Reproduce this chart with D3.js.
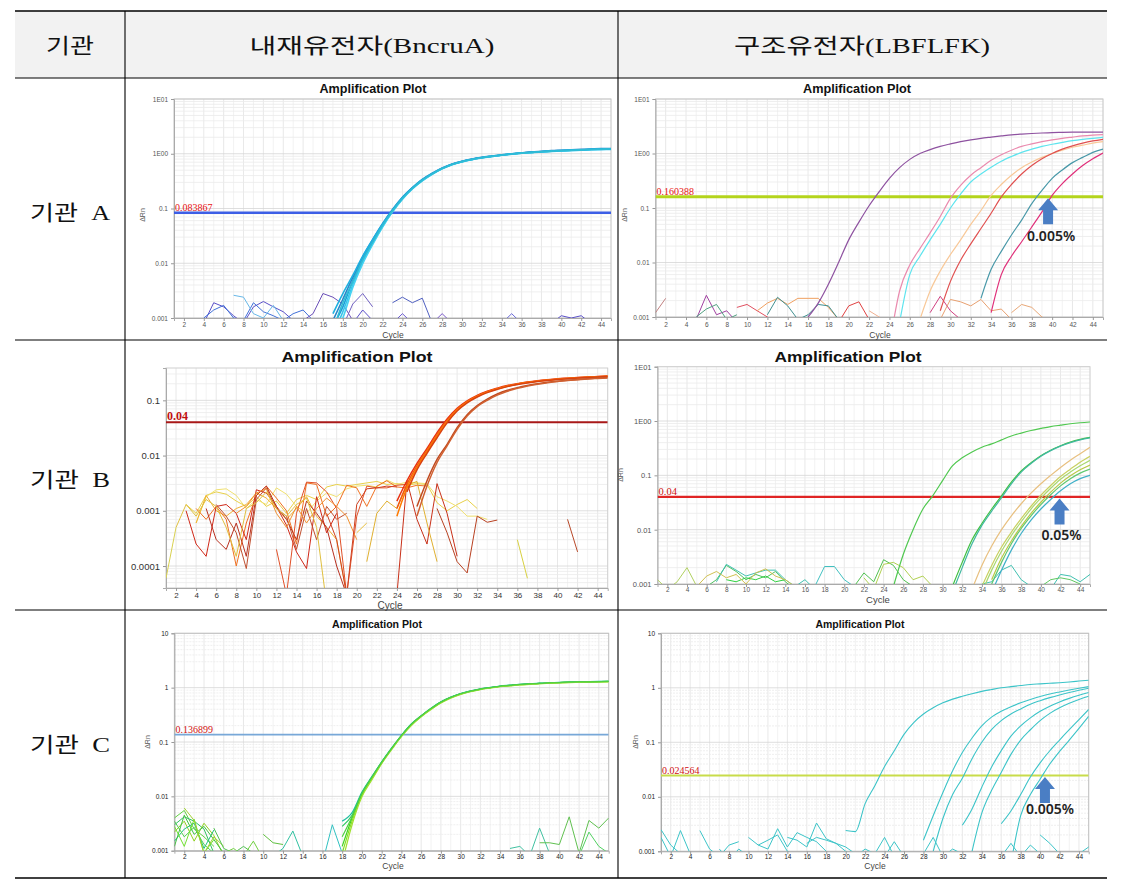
<!DOCTYPE html>
<html><head><meta charset="utf-8">
<script src="https://cdn.jsdelivr.net/npm/d3@7"></script>
<style>body{margin:0;background:#fff}</style></head>
<body><svg id="c" width="1122" height="884"></svg>
<script>
// ---------------- DATA ----------------
const headerLabels = ["기관", "내재유전자(BncruA)", "구조유전자(LBFLFK)"];
const rowLabels = ["기관  A", "기관  B", "기관  C"];
const cycleTicks = [2,4,6,8,10,12,14,16,18,20,22,24,26,28,30,32,34,36,38,40,42,44];
const yTicksE = [0.001, 0.01, 0.1, 1, 10];
const yLabelsE = ["0.001", "0.01", "0.1", "1E00", "1E01"];
const yLabelsN = ["0.001", "0.01", "0.1", "1", "10"];
const yTicksB = [0.0001, 0.001, 0.01, 0.1];
const yLabelsB = ["0.0001", "0.001", "0.01", "0.1"];
const thresholds = [0.083867, 0.160388, 0.04, 0.04, 0.136899, 0.024564];
const thresholdLabels = ["0.083867", "0.160388", "0.04", "0.04", "0.136899", "0.024564"];
const annotations = ["0.005%", "0.05%", "0.005%"];
const annotationCycles = [39.6, 41.9, 40.5];

// Panel A-left (BncruA, 기관 A)
const aLeftCurves = [
  {s:17, v:[0.0007,0.0016,0.0048,0.012,0.025,0.05,0.092,0.155,0.235,0.33,0.43,0.54,0.64,0.72,0.79,0.85,0.9,0.95,0.99,1.03,1.06,1.09,1.12,1.14,1.16,1.18,1.2,1.21,1.22]},
  {s:17, v:[0.0005,0.0013,0.004,0.0105,0.023,0.047,0.088,0.15,0.23,0.32,0.42,0.53,0.63,0.71,0.78,0.84,0.89,0.94,0.98,1.02,1.05,1.08,1.1,1.12,1.14,1.16,1.18,1.19,1.2]},
  {s:17, v:[0.0009,0.0022,0.0055,0.013,0.027,0.053,0.096,0.16,0.24,0.34,0.44,0.55,0.65,0.73,0.8,0.86,0.91,0.96,1.0,1.04,1.08,1.11,1.14,1.16,1.18,1.2,1.22,1.24,1.25]},
  {s:17, v:[0.0004,0.001,0.0036,0.0098,0.022,0.046,0.087,0.148,0.228,0.322,0.425,0.535,0.635,0.715,0.785,0.845,0.895,0.945,0.985,1.025,1.055,1.085,1.115,1.135,1.155,1.175,1.195,1.205,1.215]},
  {s:17, v:[0.0012,0.0028,0.006,0.0135,0.027,0.052,0.094,0.158,0.238,0.335,0.435,0.545,0.645,0.725,0.795,0.855,0.905,0.955,0.995,1.035,1.065,1.095,1.125,1.145,1.165,1.185,1.205,1.215,1.225]},
  {s:17, v:[0.0006,0.0019,0.0046,0.0115,0.024,0.049,0.09,0.152,0.232,0.328,0.428,0.538,0.638,0.718,0.788,0.848,0.898,0.948,0.988,1.028,1.058,1.088,1.118,1.138,1.158,1.178,1.198,1.208,1.218]}
];
const aLeftNoise = [
  {s:4, v:[0.0008,0.0019,0.0016,0.0011,0.0008,0.0016,0.002,0.0016,0.0013,0.0009]},
  {s:4, v:[0.001,0.0014,0.0017,0.001,0.0009,0.0019,0.0013,0.0011,0.0009,0.0012,0.0014,0.0009]},
  {s:7, v:[0.0026,0.0024,0.0012,0.001,0.0017,0.0009]},
  {s:14, v:[0.0009,0.0012,0.0028,0.0024,0.0018,0.0009]},
  {s:18, v:[0.0007,0.0018,0.0028,0.0016]},
  {s:23, v:[0.0019,0.0024,0.0019,0.0023,0.0008]},
  {s:19, v:[0.0008,0.0014,0.0009]},
  {s:23, v:[0.0008,0.0012,0.0008]},
  {s:27, v:[0.0008,0.0012,0.0008]},
  {s:34, v:[0.0008,0.0012,0.0008]},
  {s:39, v:[0.0008,0.0011,0.001,0.0011,0.0008]}
];

// Panel A-right (LBFLFK, 기관 A)
const aRightCurves = [
  {s:16, v:[0.001,0.0018,0.004,0.01,0.026,0.055,0.11,0.2,0.35,0.55,0.78,1.0,1.18,1.35,1.5,1.65,1.78,1.9,2.0,2.1,2.2,2.27,2.33,2.38,2.42,2.44,2.46,2.47,2.47,2.46]},
  {s:24, v:[0.0003,0.003,0.009,0.018,0.035,0.07,0.15,0.26,0.4,0.55,0.75,0.95,1.15,1.35,1.5,1.65,1.78,1.9,2.0,2.1,2.17,2.22]},
  {s:25, v:[0.0008,0.006,0.013,0.026,0.05,0.1,0.18,0.3,0.42,0.56,0.72,0.88,1.05,1.2,1.35,1.48,1.6,1.72,1.82,1.9,1.97]},
  {s:27, v:[0.0009,0.003,0.007,0.014,0.026,0.05,0.09,0.17,0.27,0.4,0.55,0.7,0.85,1.0,1.15,1.3,1.42,1.55,1.65]},
  {s:29, v:[0.0013,0.0045,0.011,0.022,0.042,0.08,0.16,0.27,0.42,0.6,0.8,1.0,1.2,1.38,1.55,1.7,1.82]},
  {s:33, v:[0.0022,0.0075,0.016,0.032,0.06,0.12,0.21,0.35,0.5,0.68,0.85,1.05,1.2]},
  {s:34, v:[0.0012,0.006,0.013,0.024,0.045,0.085,0.17,0.28,0.42,0.6,0.8,1.02]}
];
const aRightNoise = [
  {s:1, v:[0.0012,0.0022]},
  {s:5, v:[0.0009,0.0025,0.0011,0.0013,0.0008]},
  {s:5, v:[0.001,0.0014,0.0017,0.0009,0.0011]},
  {s:9, v:[0.0015,0.0017,0.0013,0.001,0.0008]},
  {s:11, v:[0.0013,0.0018,0.0022,0.0017,0.0022,0.0022,0.0022,0.0015,0.0009]},
  {s:12, v:[0.0011,0.0023,0.0016,0.0009,0.0011,0.0017,0.0016,0.0009]},
  {s:19, v:[0.0008,0.0016,0.0019,0.0009]},
  {s:22, v:[0.0013,0.001,0.0008]},
  {s:28, v:[0.0012,0.0024,0.0013,0.0009]},
  {s:29, v:[0.0009,0.0021,0.0019,0.0016,0.0021,0.0013,0.0014,0.0009]},
  {s:36, v:[0.0012,0.0017,0.0015,0.001,0.0008]}
];

// Panel B-left (BncruA, 기관 B)
const bLeftCurves = [
  {s:24, v:[0.0015,0.0035,0.0072,0.0135,0.026,0.046,0.072,0.098,0.123,0.146,0.166,0.185,0.2,0.214,0.226,0.236,0.245,0.252,0.259,0.265,0.27,0.275]},
  {s:24, v:[0.0011,0.003,0.0065,0.0125,0.024,0.043,0.069,0.095,0.12,0.143,0.163,0.182,0.198,0.212,0.224,0.234,0.243,0.25,0.257,0.263,0.268,0.273]},
  {s:24, v:[0.0008,0.0026,0.006,0.0118,0.0228,0.041,0.067,0.093,0.118,0.141,0.161,0.18,0.196,0.21,0.222,0.232,0.241,0.249,0.256,0.262,0.267,0.272]},
  {s:25, v:[0.0022,0.0055,0.011,0.021,0.039,0.064,0.09,0.115,0.138,0.158,0.177,0.193,0.207,0.219,0.229,0.238,0.246,0.253,0.259,0.264,0.269]},
  {s:26, v:[0.0012,0.0035,0.0085,0.016,0.032,0.055,0.08,0.105,0.13,0.152,0.17,0.186,0.2,0.212,0.222,0.231,0.239,0.246,0.252,0.258]},
  {s:26, v:[0.0008,0.0028,0.0075,0.015,0.03,0.052,0.077,0.1,0.124,0.146,0.165,0.181,0.196,0.208,0.219,0.228,0.236,0.243,0.249,0.255]}
];
const bLeftNoise = [
  {s:3, v:[0.0013,0.0009,0.0019,0.0022,0.002,0.0015,0.0012,0.0018,0.0012,0.0015,0.0009,0.0016,0.0019,0.0016,0.0027,0.003,0.0028,0.003,0.0032,0.0034,0.003,0.0031,0.0029,0.0031,0.003,0.0014,0.001,0.0013,0.0016,0.0011]},
  {s:4, v:[0.0006,0.0018,0.0024,0.0025,0.0019,0.0011,0.0016,0.0013,0.0026,0.002,0.0012,0.0009,0.0015,0.0021,0.0018,0.0025,0.0028,0.0029,0.0027,0.0036,0.003,0.0033,0.0032,0.0031,0.0018,0.0015,0.0012,0.0008,0.0008,0.0007]},
  {s:4, v:[0.0006,0.0019,0.001,0.0008,0.0011,0.0013,0.0021,0.0017,0.0011,0.0007,0.0011,0.0018,0.0008,0.0005,0.0003,0.00003]},
  {s:4, v:[0.0011,0.0007,0.0012,0.0007,0.0001,0.0006,0.0019,0.0028,0.0017,0.001,0.00025,0.0032,0.003,0.0008,0.0012,0.0029,0.0026,0.0012,0.0028,0.0035,0.0027,0.0026,0.0029,0.0028]},
  {s:3, v:[0.001,0.00025,0.00015,0.0012,0.0013,0.0009,0.0003,0.0024,0.0021,0.0012,0.00055,0.00018,0.00009,0.0018,0.0004,0.0009]},
  {s:5, v:[0.0011,0.0003,0.0002,0.0006,0.00015,0.0019,0.0028,0.0012,0.0007,0.0003,0.0015,0.0009,0.0005,0.0001,0.00003]},
  {s:6, v:[0.0013,0.0008,0.0004,0.00009,0.0016,0.0026,0.0011,0.0008,0.0002,0.0011,0.0003,0.0012,0.0007,0.0009]},
  {s:12, v:[0.0002,0.00003,0.0009,0.0033,0.0032,0.0022,0.0011,0.00003,0.0008,0.0028,0.0026,0.0026,0.0029,0.003]},
  {s:8, v:[0.0009,0.0012,0.0021,0.0025,0.0009,0.0005,0.0012,0.0006,0.0011,0.0017,0.0012,0.0008,0.0003]},
  {s:2, v:[0.0005,0.0013,0.0008,0.0016,0.0012,0.0005,0.00015,0.0011,0.0014,0.0022,0.0011,0.0008,0.0013,0.0017,0.0005,0.00002]},
  {s:24, v:[0.00003,0.0035,0.0007,0.00025,0.0031,0.0009,0.00015]},
  {s:28, v:[0.0011,0.0004,0.00012,0.000075,0.0008,0.00062,0.00068]},
  {s:36, v:[0.0003,0.00006]},
  {s:41, v:[0.0007,0.00018]},
  {s:1, v:[0.00006,0.0005]},
  {s:20, v:[0.0004,0.0006]},
  {s:21, v:[0.00012,0.0009,0.0015,0.0011,0.0029,0.0034,0.0006,0.00012]},
  {s:17, v:[0.0009,0.0003,0.00003,0.0013,0.0025,0.0026,0.0028,0.0027]}
];

// Panel B-right (LBFLFK, 기관 B)
const bRightCurves = [
  {s:25, v:[0.0009,0.0035,0.01,0.024,0.042,0.08,0.15,0.21,0.27,0.33,0.38,0.45,0.53,0.6,0.67,0.73,0.79,0.84,0.89,0.93,0.96]},
  {s:31, v:[0.0009,0.0025,0.0065,0.013,0.024,0.042,0.075,0.12,0.17,0.23,0.29,0.35,0.41,0.46,0.5]},
  {s:31, v:[0.0007,0.002,0.0055,0.012,0.022,0.039,0.07,0.115,0.165,0.225,0.285,0.345,0.4,0.45,0.49]},
  {s:33, v:[0.0008,0.0022,0.005,0.01,0.018,0.03,0.047,0.07,0.1,0.14,0.19,0.25,0.33]},
  {s:34, v:[0.0009,0.0022,0.0048,0.009,0.016,0.027,0.043,0.065,0.095,0.13,0.175,0.225]},
  {s:34, v:[0.0007,0.0018,0.004,0.0078,0.014,0.024,0.038,0.058,0.085,0.115,0.15,0.19]},
  {s:35, v:[0.0012,0.003,0.0062,0.0115,0.02,0.032,0.049,0.072,0.098,0.127,0.155]},
  {s:35, v:[0.001,0.0025,0.0055,0.0105,0.018,0.029,0.044,0.064,0.087,0.11,0.13]},
  {s:35, v:[0.0007,0.0018,0.0042,0.0085,0.015,0.024,0.036,0.052,0.07,0.087,0.1]}
];
const bRightNoise = [
  {s:1, v:[0.0012,0.0008,0.0011,0.002,0.0009]},
  {s:6, v:[0.0009,0.0012,0.0022,0.0017,0.0012,0.0015,0.0013,0.0017,0.0011,0.0008]},
  {s:7, v:[0.0011,0.0023,0.0018,0.0014,0.0016,0.0018,0.0018,0.0012,0.0009,0.0012,0.0008]},
  {s:8, v:[0.0012,0.0011,0.0013,0.0012,0.0014,0.0011,0.0012]},
  {s:5, v:[0.0009,0.0014,0.0017,0.0013,0.0015,0.001,0.0016,0.0019,0.0014,0.0012,0.0009]},
  {s:17, v:[0.0009,0.0021,0.0021,0.0012,0.0009]},
  {s:21, v:[0.0009,0.0016,0.0011,0.0028,0.0022,0.0012,0.0009]},
  {s:22, v:[0.0013,0.0008,0.0023,0.0025,0.002,0.0012,0.0014,0.0009]},
  {s:34, v:[0.001,0.0011,0.0018,0.0022,0.0012,0.0009]},
  {s:41, v:[0.0008,0.0015,0.0014,0.0011,0.0015,0.0021]},
  {s:40, v:[0.0009,0.0012,0.0013,0.0012,0.001]}
];

// Panel C-left (BncruA, 기관 C)
const cLeftCurves = [
  {s:18, v:[0.0012,0.004,0.011,0.022,0.042,0.075,0.13,0.21,0.3,0.41,0.54,0.66,0.77,0.86,0.94,1.0,1.06,1.1,1.14,1.17,1.2,1.22,1.24,1.26,1.27,1.28,1.29,1.3]},
  {s:18, v:[0.0009,0.0035,0.0105,0.021,0.041,0.074,0.128,0.205,0.295,0.4,0.53,0.65,0.76,0.85,0.93,0.99,1.05,1.09,1.13,1.16,1.19,1.21,1.23,1.25,1.26,1.27,1.28,1.29]},
  {s:18, v:[0.0035,0.005,0.012,0.023,0.043,0.077,0.133,0.215,0.305,0.42,0.55,0.67,0.78,0.87,0.95,1.01,1.07,1.11,1.15,1.18,1.21,1.23,1.25,1.27,1.28,1.29,1.3,1.31]},
  {s:18, v:[0.0028,0.0045,0.0115,0.0225,0.0425,0.076,0.131,0.212,0.3,0.415,0.545,0.665,0.775,0.865,0.945,1.005,1.065,1.105,1.145,1.175,1.205,1.225,1.245,1.265,1.275,1.285,1.295,1.305]},
  {s:18, v:[0.0006,0.003,0.0098,0.02,0.04,0.072,0.125,0.2,0.29,0.395,0.52,0.64,0.75,0.84,0.92,0.98,1.04,1.08,1.12,1.15,1.18,1.2,1.22,1.24,1.25,1.26,1.27,1.28]},
  {s:18, v:[0.0018,0.0042,0.0112,0.0222,0.0422,0.0755,0.1305,0.211,0.302,0.412,0.542,0.662,0.772,0.862,0.942,1.002,1.062,1.102,1.142,1.172,1.202,1.222,1.242,1.262,1.272,1.282,1.292,1.302]}
];
const cLeftNoise = [
  {s:1, v:[0.004,0.0055,0.0025,0.0018,0.0012]},
  {s:1, v:[0.003,0.0042,0.0035,0.0025,0.0009]},
  {s:1, v:[0.0022,0.0035,0.0015,0.0032,0.0019,0.0008]},
  {s:1, v:[0.0015,0.0025,0.0032,0.0011,0.0024]},
  {s:1, v:[0.0035,0.0018,0.0027,0.0013,0.0009]},
  {s:1, v:[0.0012,0.0045,0.002,0.0028,0.0016,0.0009]},
  {s:1, v:[0.0028,0.0012,0.0038,0.0009,0.0016]},
  {s:2, v:[0.0061,0.0036,0.0009,0.0018,0.0012]},
  {s:5, v:[0.0026,0.0011,0.0009,0.0012,0.0009]},
  {s:6, v:[0.0009,0.0011,0.0008,0.0015,0.0007]},
  {s:10, v:[0.002,0.0014,0.0013]},
  {s:11, v:[0.0008,0.0011,0.0023,0.0008]},
  {s:16, v:[0.0006,0.003,0.0009]},
  {s:35, v:[0.0011,0.0012,0.0008,0.0026,0.0009]},
  {s:38, v:[0.0014,0.0014,0.0013,0.0042,0.0009,0.0036,0.0026,0.004]},
  {s:42, v:[0.0008,0.0022,0.0012,0.0009]}
];

// Panel C-right (LBFLFK, 기관 C)
const cRightCurves = [
  {s:20, v:[0.0024,0.0023,0.0075,0.016,0.036,0.07,0.14,0.23,0.33,0.43,0.53,0.62,0.7,0.78,0.86,0.93,1.0,1.05,1.1,1.15,1.18,1.21,1.24,1.28,1.33,1.38]},
  {s:28, v:[0.0016,0.0045,0.012,0.03,0.065,0.12,0.2,0.29,0.37,0.45,0.53,0.61,0.69,0.77,0.84,0.91,0.98,1.05]},
  {s:29, v:[0.001,0.004,0.011,0.022,0.05,0.1,0.17,0.25,0.33,0.41,0.5,0.58,0.66,0.74,0.82,0.9,0.98]},
  {s:32, v:[0.003,0.006,0.015,0.035,0.07,0.13,0.2,0.28,0.37,0.46,0.55,0.64,0.73,0.82]},
  {s:33, v:[0.001,0.005,0.013,0.028,0.06,0.11,0.17,0.25,0.34,0.43,0.52,0.61,0.7]},
  {s:36, v:[0.0032,0.0055,0.011,0.023,0.042,0.07,0.11,0.17,0.26,0.4]},
  {s:37, v:[0.0006,0.0045,0.011,0.021,0.04,0.068,0.11,0.18,0.3]}
];
const cRightNoise = [
  {s:1, v:[0.0025,0.0013,0.0009]},
  {s:1, v:[0.0018,0.0008,0.0024,0.0009,0.0008]},
  {s:5, v:[0.0024,0.0011,0.0008,0.0013,0.0015]},
  {s:7, v:[0.0011,0.0007,0.0011,0.0008]},
  {s:10, v:[0.0018,0.0013,0.0011,0.0026,0.0012,0.0022,0.0018,0.0015,0.001]},
  {s:11, v:[0.0013,0.0016,0.002,0.001,0.0008]},
  {s:14, v:[0.0018,0.0016,0.0012,0.0033,0.0017,0.0014,0.0012,0.0009]},
  {s:16, v:[0.0014,0.0018,0.0016,0.0014,0.001,0.0008]},
  {s:21, v:[0.0008,0.0011,0.0009]},
  {s:23, v:[0.0009,0.0018,0.0008]},
  {s:24, v:[0.0008,0.0015,0.0008]},
  {s:28, v:[0.0009,0.0018,0.0008]},
  {s:30, v:[0.0008,0.0011,0.0009]},
  {s:36, v:[0.0008,0.0014,0.0008]},
  {s:38, v:[0.0008,0.0013,0.0009]},
  {s:40, v:[0.002,0.0014,0.0009]},
  {s:44, v:[0.0009,0.0012,0.0009]}
];

// ---------------- STYLE / LAYOUT ----------------
const aLeftColors = ['#1a9ed8','#34c4ea','#2a86c8','#46d2f2','#1fb0e0','#30bcd4'];
const aLeftNoiseColors = ['#5a50c8','#4070d8','#68b8e8','#6a4fb8','#7060c0','#5060c0','#5a4fc8','#6a5ad0','#7a5ac8','#6a6ad8','#5a50c8'];
const aRightColors = ['#8e52a0','#ea8aae','#5ee4ee','#f8c898','#e05050','#4898a8','#e0307a'];
const aRightNoiseColors = ['#c08080','#a040a0','#50a080','#e05060','#f0a060','#409090','#e04040','#f0b090','#d04080','#e8a070','#e8a878'];
const bLeftColors = ['#e83010','#f05a10','#ff7a00','#d84010','#c04a20','#d06030'];
const bLeftNoiseColors = ['#e8d048','#f0e070','#f0b030','#f07020','#d02818','#b83020','#c05030','#e05028','#f09030','#e0c040','#c83018','#b84020','#d8d040','#b84828','#d8d050','#e8c040','#e0b030','#d04020'];
const bRightColors = ['#50c850','#40c040','#40b8a0','#e8c080','#c8d060','#a8d870','#b8c848','#60c870','#40b0c8'];
const bRightNoiseColors = ['#b0d060','#50c060','#40c0b0','#30d040','#d0c050','#40c0c0','#50c050','#b0d050','#40c0b0','#40c0b0','#60c860'];
const cLeftColors = ['#40d020','#80e020','#20c0a0','#30c860','#a0e030','#50d040'];
const cLeftNoiseColors = ['#60d040','#30c060','#90d020','#20c080','#50d050','#40c040','#70e030','#a0d030','#50c050','#70d040','#60c040','#30c0a0','#30c0c0','#40c0a0','#60c050','#50d060'];
const cRightColor = '#3cc4c8';

const panels = [
  {x0:174, x1:611, yTop:99, yBot:318, dom:[0.001,10], yt:yTicksE, yl:yLabelsE, curves:aLeftCurves, cc:aLeftColors, cw:1.6, noise:aLeftNoise, nc:aLeftNoiseColors,
   thr:0, thrColor:'#3c5ee6', thrW:2.6, thrFont:10, thrBold:false, thrLabelColor:'#e81010',
   title:{x:373, y:93, size:12, len:107}, tickFont:6.5, xTickY:325, cycle:{x:393, y:336, size:8.5}, dRn:{x:143, y:215},
   frame:'#c8c8c8'},
  {x0:655.5, x1:1103, yTop:99, yBot:317, dom:[0.001,10], yt:yTicksE, yl:yLabelsE, curves:aRightCurves, cc:aRightColors, cw:1.2, noise:aRightNoise, nc:aRightNoiseColors,
   thr:1, thrColor:'#b4d41c', thrW:3, thrFont:10, thrBold:false, thrLabelColor:'#e81010',
   title:{x:857, y:93, size:12, len:108}, tickFont:6.5, xTickY:325, cycle:{x:880, y:336, size:8.5}, dRn:{x:625, y:215},
   arrow:{i:0, dy:44, dx:3}, frame:'#c8c8c8'},
  {x0:166, x1:607.7, yTop:368, yBot:588, dom:[4.0e-5,0.385], yt:yTicksB, yl:yLabelsB, curves:bLeftCurves, cc:bLeftColors, cw:1.5, noise:bLeftNoise, nc:bLeftNoiseColors,
   thr:2, thrColor:'#a81818', thrW:2, thrFont:12, thrBold:true, thrLabelColor:'#c01010',
   title:{x:357, y:362, size:15, len:151}, tickFont:9.5, tickColor:'#333', xTickY:596, xTickFont:8, cycle:{x:390, y:606, size:10},
   frame:'#d0d0d0'},
  {x0:657.5, x1:1090, yTop:366.7, yBot:584, dom:[0.001,10], yt:yTicksE, yl:yLabelsE, curves:bRightCurves, cc:bRightColors, cw:1.2, noise:bRightNoise, nc:bRightNoiseColors,
   thr:3, thrColor:'#e02424', thrW:2.2, thrFont:10.5, thrBold:false, thrLabelColor:'#d01010',
   title:{x:848, y:362, size:15, len:147}, tickFont:7.5, xTickY:590, xTickFont:6.5, cycle:{x:878, y:600, size:9.5}, dRn:{x:621, y:475},
   arrow:{i:1, dy:43, dx:2}, frame:'#d0d0d0'},
  {x0:174.4, x1:608.7, yTop:633.3, yBot:850.7, dom:[0.001,10], yt:yTicksE, yl:yLabelsN, curves:cLeftCurves, cc:cLeftColors, cw:1.2, noise:cLeftNoise, nc:cLeftNoiseColors,
   thr:4, thrColor:'#78a8d8', thrW:1.6, thrFont:10, thrBold:false, thrLabelColor:'#d01010',
   title:{x:377, y:628, size:11.5, len:90}, tickFont:6.5, tickColor:'#222', xTickY:857.7, cycle:{x:393, y:867, size:8.5}, dRn:{x:148, y:742},
   frame:'#c0c0c0', dotted:true},
  {x0:661, x1:1088.7, yTop:633.3, yBot:851.3, dom:[0.001,10], yt:yTicksE, yl:yLabelsN, curves:cRightCurves, cc:null, cw:1.1, noise:cRightNoise, nc:null,
   thr:5, thrColor:'#c8dc4a', thrW:2, thrFont:10, thrBold:false, thrLabelColor:'#d01010',
   title:{x:860, y:628, size:11.5, len:89}, tickFont:6.5, tickColor:'#222', xTickY:857.7, cycle:{x:875, y:867, size:8.5}, dRn:{x:636, y:742},
   arrow:{i:2, dy:38, dx:5}, frame:'#c0c0c0', dotted:true}
];

// ---------------- DRAW ----------------
const svg = d3.select('#c');
const sans = "'Liberation Sans', Arial, sans-serif";

// table
svg.append('rect').attr('x',15).attr('y',11).attr('width',1092).attr('height',67).attr('fill','#f2f2f2');
const hLines = [11, 78, 340, 610, 878];
svg.selectAll('line.h').data(hLines).join('line').attr('class','h')
  .attr('x1',15).attr('x2',1107).attr('y1',d=>d).attr('y2',d=>d)
  .attr('stroke','#000').attr('stroke-width',(d,i)=> i===0||i===4 ? 1.4 : 1.1);
[125, 618].forEach(xv => svg.append('line').attr('x1',xv).attr('x2',xv).attr('y1',11).attr('y2',878).attr('stroke','#000').attr('stroke-width',1.1));

const hdrFont = "'Liberation Serif', 'Noto Sans CJK KR', serif";
const hdrX = [70, 372, 862], hdrLen = [48, 245, 256];
headerLabels.forEach((t,i)=>{
  svg.append('text').attr('x',hdrX[i]).attr('y',53).attr('text-anchor','middle')
    .attr('font-family',hdrFont).attr('font-size',21).attr('fill','#111')
    .attr('textLength',hdrLen[i]).attr('lengthAdjust','spacingAndGlyphs').text(t);
});
const rowY = [220, 487, 752];
rowLabels.forEach((t,i)=>{
  svg.append('text').attr('x',70).attr('y',rowY[i]).attr('text-anchor','middle')
    .attr('font-family',hdrFont).attr('font-size',21).attr('fill','#111')
    .attr('textLength',80).attr('lengthAdjust','spacingAndGlyphs').attr('xml:space','preserve').text(t);
});

panels.forEach((p, pi) => {
  const g = svg.append('g');
  const x = d3.scaleLinear().domain([1,45]).range([p.x0, p.x1]);
  const y = d3.scaleLog().domain(p.dom).range([p.yBot, p.yTop]);
  const clipId = 'clip'+pi;
  g.append('clipPath').attr('id',clipId).append('rect')
    .attr('x',p.x0).attr('y',p.yTop).attr('width',p.x1-p.x0).attr('height',p.yBot-p.yTop);

  // grid: vertical every cycle
  const cyc = d3.range(1,46);
  g.selectAll(null).data(cyc).join('line')
    .attr('x1',d=>x(d)).attr('x2',d=>x(d)).attr('y1',p.yTop).attr('y2',p.yBot)
    .attr('stroke', d=> d%2===0 ? '#e2e2e2' : '#efefef').attr('stroke-width',0.8);
  // grid: horizontal log minors
  const minors = [];
  const e0 = Math.floor(Math.log10(p.dom[0])), e1 = Math.ceil(Math.log10(p.dom[1]));
  for (let e=e0; e<=e1; e++) for (let k=1;k<10;k++){ const v=k*Math.pow(10,e); if (v>=p.dom[0]*0.999 && v<=p.dom[1]*1.001) minors.push({v, major:k===1}); }
  g.selectAll(null).data(minors).join('line')
    .attr('x1',p.x0).attr('x2',p.x1).attr('y1',d=>y(d.v)).attr('y2',d=>y(d.v))
    .attr('stroke', d=> d.major ? '#d6d6d6' : '#ebebeb').attr('stroke-width',0.8)
    .attr('stroke-dasharray', d=> (p.dotted && !d.major) ? '2,1' : null);
  // frame
  g.append('rect').attr('x',p.x0).attr('y',p.yTop).attr('width',p.x1-p.x0).attr('height',p.yBot-p.yTop)
    .attr('fill','none').attr('stroke',p.frame).attr('stroke-width',1);

  // axes
  const yAxis = d3.axisLeft(y).tickValues(p.yt).tickFormat((d,i)=>p.yl[i]).tickSize(3).tickPadding(3);
  const ya = g.append('g').attr('transform',`translate(${p.x0},0)`).call(yAxis);
  ya.select('.domain').attr('stroke','#aaa');
  ya.selectAll('line').attr('stroke','#999');
  ya.selectAll('text').attr('font-family',sans).attr('font-size',p.tickFont).attr('fill',p.tickColor||'#555');
  const xAxis = d3.axisBottom(x).tickValues(cycleTicks).tickSize(3).tickPadding(2);
  const xa = g.append('g').attr('transform',`translate(0,${p.yBot})`).call(xAxis);
  xa.select('.domain').attr('stroke','#aaa');
  xa.selectAll('line').attr('stroke','#999');
  xa.selectAll('text').attr('font-family',sans).attr('font-size',p.xTickFont||p.tickFont).attr('fill',p.tickColor||'#555')
    .attr('y', null).attr('dy',null).attr('transform',`translate(0,${p.xTickY - p.yBot})`).attr('dominant-baseline','middle');

  // titles & labels
  g.append('text').attr('x',p.title.x).attr('y',p.title.y).attr('text-anchor','middle')
    .attr('font-family',sans).attr('font-weight','bold').attr('font-size',p.title.size).attr('fill','#111')
    .attr('textLength',p.title.len).attr('lengthAdjust','spacingAndGlyphs').text('Amplification Plot');
  g.append('text').attr('x',p.cycle.x).attr('y',p.cycle.y).attr('text-anchor','middle').attr('dominant-baseline','middle')
    .attr('font-family',sans).attr('font-size',p.cycle.size).attr('fill','#444').text('Cycle');
  if (p.dRn) g.append('text').attr('transform',`translate(${p.dRn.x},${p.dRn.y}) rotate(-90)`).attr('text-anchor','middle')
    .attr('dominant-baseline','middle').attr('font-family',sans).attr('font-size',7).attr('fill','#555').text('ΔRn');

  const plot = g.append('g').attr('clip-path',`url(#${clipId})`);
  const toPts = s => s.v.map((v,i)=>[s.s+i, v]);
  const smooth = d3.line().defined(d=>d[1]>0).x(d=>x(d[0])).y(d=>y(d[1])).curve(d3.curveMonotoneX);
  const lin = d3.line().defined(d=>d[1]>0).x(d=>x(d[0])).y(d=>y(Math.max(d[1], p.dom[0]*0.3)));

  // noise
  p.noise.forEach((s,i)=>{
    plot.append('path').attr('d',lin(toPts(s))).attr('fill','none')
      .attr('stroke', p.nc ? p.nc[i % p.nc.length] : cRightColor).attr('stroke-width',1);
  });
  // threshold
  const ty = y(thresholds[p.thr]);
  plot.append('line').attr('x1',p.x0).attr('x2',p.x1).attr('y1',ty).attr('y2',ty)
    .attr('stroke',p.thrColor).attr('stroke-width',p.thrW);
  // curves
  p.curves.forEach((s,i)=>{
    const pts = toPts(s).map(d=>[d[0], Math.max(d[1], p.dom[0]*0.3)]);
    plot.append('path').attr('d',smooth(pts)).attr('fill','none')
      .attr('stroke', p.cc ? p.cc[i % p.cc.length] : cRightColor).attr('stroke-width',p.cw);
  });
  // threshold label
  g.append('text').attr('x',p.x0+1).attr('y',ty-2)
    .attr('font-family',"'Liberation Serif', 'Times New Roman', serif").attr('font-size',p.thrFont)
    .attr('font-weight',p.thrBold?'bold':'normal').attr('fill',p.thrLabelColor).text(thresholdLabels[p.thr]);

  // arrow annotation
  if (p.arrow) {
    const ax = x(annotationCycles[p.arrow.i]), ay = ty + 1.5;
    const shape = [[0,0],[10,12],[5,12],[5,26],[-5,26],[-5,12],[-10,12]];
    g.append('path').attr('d','M'+shape.map(q=>[ax+q[0], ay+q[1]].join(',')).join('L')+'Z')
      .attr('fill','#4a7ec4');
    g.append('text').attr('x',ax+p.arrow.dx).attr('y',ty+p.arrow.dy).attr('text-anchor','middle')
      .attr('font-family',"'Noto Sans', 'Open Sans', sans-serif").attr('font-weight',600).attr('font-size',14)
      .attr('fill','#222').text(annotations[p.arrow.i]);
  }
});
</script>
</body></html>
